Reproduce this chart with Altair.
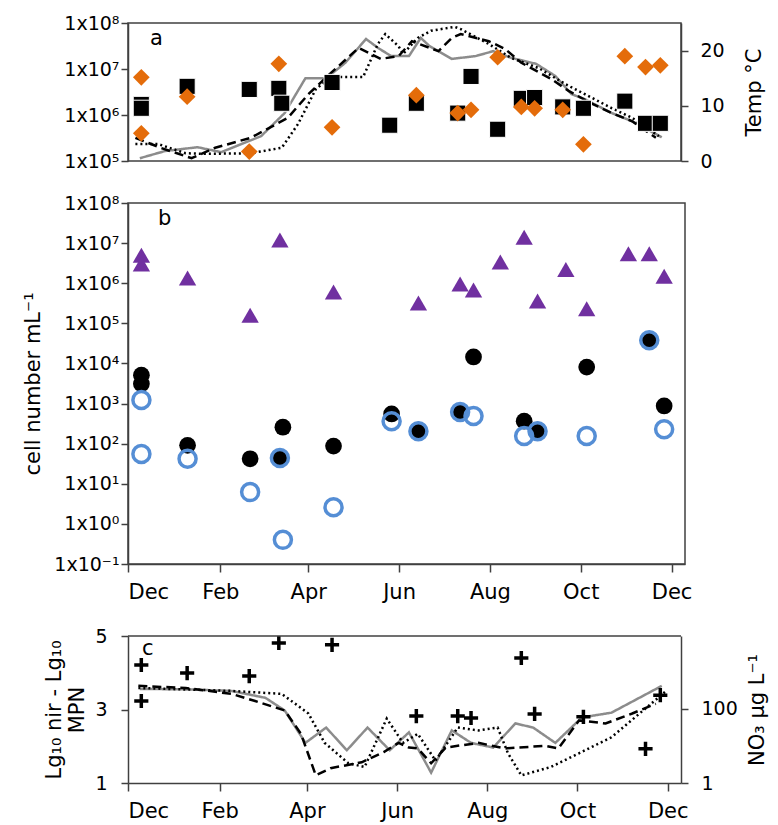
import json
import altair as alt
import pandas as pd

START = "2012-12-01"
MONTH_TICKS = [0, 62, 121, 182, 243, 304, 365]
MONTH_LABELS = ["Dec", "Feb", "Apr", "Jun", "Aug", "Oct", "Dec"]
SUP = ["⁻¹", "⁰", "¹", "²", "³", "⁴", "⁵", "⁶", "⁷", "⁸"]

# ---------------- panel a ----------------
a_sq_dates = ["2012-12-10", "2012-12-10", "2013-01-10", "2013-02-21", "2013-03-13", "2013-03-15",
              "2013-04-18", "2013-05-27", "2013-06-14", "2013-07-12", "2013-07-21", "2013-08-08",
              "2013-08-24", "2013-09-02", "2013-09-21", "2013-10-05", "2013-11-02", "2013-11-16",
              "2013-11-26"]
a_sq_vals = [1.7e6, 1.4e6, 4.2e6, 3.6e6, 3.8e6, 1.8e6, 5.1e6, 6.0e5, 1.8e6, 1.1e6, 6.9e6, 4.9e5,
             2.3e6, 2.4e6, 1.5e6, 1.4e6, 2.0e6, 6.6e5, 6.6e5]
a_dm_dates = ["2012-12-10", "2012-12-10", "2013-01-10", "2013-02-21", "2013-03-13", "2013-04-18",
              "2013-06-14", "2013-07-12", "2013-07-21", "2013-08-08", "2013-08-24", "2013-09-02",
              "2013-09-21", "2013-10-05", "2013-11-02", "2013-11-16", "2013-11-26"]
a_dm_vals = [6.6e6, 4.0e5, 2.5e6, 1.6e5, 1.3e7, 5.4e5, 2.7e6, 1.1e6, 1.3e6, 1.8e7, 1.5e6, 1.4e6,
             1.3e6, 2.3e5, 1.9e7, 1.1e7, 1.2e7]

temp_solid_dates = ["2012-12-09", "2012-12-26", "2013-01-17", "2013-02-02", "2013-03-01", "2013-03-17",
                    "2013-03-31", "2013-04-14", "2013-04-27", "2013-05-11", "2013-05-19", "2013-05-28",
                    "2013-06-09", "2013-06-17", "2013-06-23", "2013-07-08", "2013-07-24", "2013-08-05",
                    "2013-08-17", "2013-09-03", "2013-09-16", "2013-09-27", "2013-10-06", "2013-10-24",
                    "2013-11-07", "2013-11-27"]
temp_solid = [0.5, 1.8, 2.5, 1.6, 4.5, 8.7, 15.0, 15.0, 17.8, 22.1, 20.5, 19.0, 19.0, 22.3, 20.8, 18.5,
              19.0, 19.9, 18.7, 17.6, 15.4, 12.1, 11.2, 8.7, 7.2, 4.3]
temp_dashed_dates = ["2012-12-06", "2012-12-23", "2013-01-13", "2013-01-29", "2013-02-22", "2013-03-19",
                     "2013-04-02", "2013-04-15", "2013-05-06", "2013-05-21", "2013-06-02", "2013-06-11",
                     "2013-06-29", "2013-07-08", "2013-07-14", "2013-08-02", "2013-08-13", "2013-08-24",
                     "2013-09-13", "2013-09-25", "2013-10-10", "2013-10-24", "2013-11-07", "2013-11-23"]
temp_dashed = [4.2, 2.4, 0.5, 2.4, 4.2, 7.8, 12.1, 15.4, 20.5, 18.5, 19.0, 21.7, 19.9, 22.3, 23.0, 21.7,
               20.3, 17.8, 14.9, 12.7, 10.5, 8.7, 7.2, 4.2]
temp_dotted_dates = ["2012-12-06", "2012-12-21", "2013-01-09", "2013-01-22", "2013-02-22", "2013-03-15",
                     "2013-03-26", "2013-04-07", "2013-04-17", "2013-05-09", "2013-05-19", "2013-05-24",
                     "2013-06-02", "2013-06-05", "2013-06-15", "2013-06-24", "2013-07-10", "2013-07-14",
                     "2013-08-02", "2013-08-17", "2013-09-05", "2013-09-23", "2013-10-06", "2013-10-24",
                     "2013-11-07", "2013-11-25"]
temp_dotted = [3.1, 3.1, 1.4, 1.3, 1.4, 2.4, 6.7, 13.0, 15.2, 15.2, 21.2, 23.0, 20.8, 19.4, 22.3, 23.6,
               24.3, 23.9, 21.2, 18.7, 16.8, 13.9, 12.1, 9.6, 7.8, 4.5]

# ---------------- panel b ----------------
b_tri_dates = ["2012-12-10", "2012-12-10", "2013-01-10", "2013-02-21", "2013-03-13", "2013-04-18",
               "2013-06-14", "2013-07-12", "2013-07-21", "2013-08-08", "2013-08-24", "2013-09-02",
               "2013-09-21", "2013-10-05", "2013-11-02", "2013-11-16", "2013-11-26"]
b_tri_vals = [5.0e6, 3.0e6, 1.35e6, 1.6e5, 1.2e7, 6.0e5, 3.2e5, 9.5e5, 6.8e5, 3.4e6, 1.4e7, 3.6e5,
              2.2e6, 2.3e5, 5.4e6, 5.4e6, 1.5e6]
b_dot_dates = ["2012-12-10", "2012-12-10", "2013-01-10", "2013-02-21", "2013-03-13", "2013-03-15",
               "2013-04-18", "2013-05-27", "2013-06-14", "2013-07-12", "2013-07-21", "2013-08-24",
               "2013-09-02", "2013-10-05", "2013-11-16", "2013-11-26"]
b_dot_vals = [5100, 3100, 91, 42, 44, 257, 87, 550, 219, 575, 14500, 363, 219, 8100, 38000, 870]
b_ring_dates = ["2012-12-10", "2012-12-10", "2013-01-10", "2013-02-21", "2013-03-13", "2013-03-15",
                "2013-04-18", "2013-05-27", "2013-06-14", "2013-07-12", "2013-07-21", "2013-08-24",
                "2013-09-02", "2013-10-05", "2013-11-16", "2013-11-26"]
b_ring_vals = [1230, 55, 42, 6.2, 44, 0.4, 2.6, 363, 204, 617, 490, 155, 204, 155, 38000, 229]

# ---------------- panel c ----------------
c_plus_dates = ["2012-12-10", "2012-12-10", "2013-01-10", "2013-02-21", "2013-03-13", "2013-04-18",
                "2013-06-14", "2013-07-12", "2013-07-21", "2013-08-24", "2013-09-02", "2013-10-05",
                "2013-11-16", "2013-11-26"]
c_plus_vals = [4.21, 3.23, 3.99, 3.91, 4.81, 4.76, 2.82, 2.82, 2.77, 4.40, 2.88, 2.80, 1.93, 3.39]

no3_solid_dates = ["2012-12-09", "2013-01-09", "2013-02-09", "2013-03-04", "2013-03-17", "2013-03-31",
                   "2013-04-14", "2013-04-28", "2013-05-12", "2013-05-27", "2013-06-09", "2013-06-24",
                   "2013-07-08", "2013-07-21", "2013-08-05", "2013-08-20", "2013-09-01", "2013-09-16",
                   "2013-10-04", "2013-10-24", "2013-11-27"]
no3_solid = [340, 330, 300, 195, 89, 12, 31, 7.6, 31, 7.6, 23, 1.9, 26, 12, 9, 40, 31, 12, 58, 78, 410]
no3_dashed_dates = ["2012-12-08", "2013-01-09", "2013-02-09", "2013-02-25", "2013-03-17", "2013-03-28",
                    "2013-04-07", "2013-04-17", "2013-05-08", "2013-05-23", "2013-06-02", "2013-06-09",
                    "2013-06-15", "2013-06-24", "2013-07-04", "2013-07-12", "2013-07-26", "2013-08-13",
                    "2013-08-22", "2013-09-09", "2013-09-18", "2013-10-02", "2013-10-20", "2013-11-07",
                    "2013-11-23"]
no3_dashed = [410, 360, 250, 160, 89, 21, 1.6, 2.5, 3.6, 6.8, 12, 9, 8.5, 3.4, 9, 10, 12, 8.5, 9, 10,
              8.5, 48, 40, 74, 135]
no3_dotted_dates = ["2012-12-08", "2013-02-09", "2013-03-15", "2013-04-02", "2013-04-13", "2013-04-29",
                    "2013-05-10", "2013-05-25", "2013-06-05", "2013-06-15", "2013-06-27", "2013-07-12",
                    "2013-07-26", "2013-08-08", "2013-08-15", "2013-08-24", "2013-09-13", "2013-10-02",
                    "2013-10-24", "2013-11-30"]
no3_dotted = [360, 300, 250, 74, 12, 3.4, 2.7, 54, 12, 21, 4, 31, 26, 31, 6.3, 1.6, 2.7, 6.3, 17, 300]

SERIES = ["solid", "dashed", "dotted"]


def frame(dates, values, series=None):
    d = pd.DataFrame({"day": (pd.to_datetime(dates) - pd.Timestamp(START)).days, "v": values})
    if series is not None:
        d["series"] = series
    return d


FONT = "DejaVu Sans"
ORANGE = "#E46C0A"
PURPLE = "#7030A0"
BLUE = "#558ED5"
GREY = "#8C8C8C"
FRAME = "#404040"

sup_expr = "'1x10' + " + json.dumps(SUP, ensure_ascii=False) + "[round(log(datum.value)/LN10)+1]"
month_expr = (json.dumps(MONTH_LABELS) + "[indexof(" + json.dumps(MONTH_TICKS) + ", datum.value)]")

X_DOMAIN = [0, 374]


def xenc(show):
    if show:
        ax = alt.Axis(values=MONTH_TICKS, labelExpr=month_expr, title=None, labelFontSize=21,
                      labelPadding=9, tickSize=8)
    else:
        ax = None
    return alt.X("day:Q", scale=alt.Scale(domain=X_DOMAIN, nice=False, zero=False), axis=ax)


line_color = alt.Color("series:N", scale=alt.Scale(domain=SERIES, range=[GREY, "black", "black"]), legend=None)
line_dash = alt.StrokeDash("series:N", scale=alt.Scale(domain=SERIES, range=[[1, 0], [9, 5], [2, 3]]), legend=None)
line_width = alt.StrokeWidth("series:N", scale=alt.Scale(domain=SERIES, range=[2.5, 2.5, 2.2]), legend=None)


def letter(t, x, y):
    return alt.Chart(pd.DataFrame({"t": [t]})).mark_text(
        font=FONT, fontSize=21, align="left", baseline="middle", color="black"
    ).encode(text="t:N", x=alt.value(x), y=alt.value(y))


# ---- panel a
df_temp = pd.concat([frame(temp_solid_dates, temp_solid, "solid"),
                     frame(temp_dashed_dates, temp_dashed, "dashed"),
                     frame(temp_dotted_dates, temp_dotted, "dotted")])
ya = alt.Y("v:Q", scale=alt.Scale(type="log", domain=[1e5, 1e8], nice=False),
           axis=alt.Axis(values=[1e5, 1e6, 1e7, 1e8], labelExpr=sup_expr, title=None, orient="left"))
a_lines = alt.Chart(df_temp).mark_line().encode(
    x=xenc(False),
    y=alt.Y("v:Q", scale=alt.Scale(domain=[0, 25], nice=False),
            axis=alt.Axis(values=[0, 10, 20], orient="right", title="Temp °C", titleAngle=270,
                          titleBaseline="top", titlePadding=19, labelPadding=12)),
    color=line_color, strokeDash=line_dash, strokeWidth=line_width, detail="series:N")
a_sq = alt.Chart(frame(a_sq_dates, a_sq_vals)).mark_square(
    size=260, color="black", stroke="white", strokeWidth=1, opacity=1).encode(x=xenc(False), y=ya)
a_dm = alt.Chart(frame(a_dm_dates, a_dm_vals)).mark_point(
    shape="diamond", filled=True, size=280, color=ORANGE, opacity=1).encode(x=xenc(False), y=ya)
panel_a = alt.layer(a_lines, alt.layer(a_sq, a_dm, letter("a", 22, 16))).resolve_scale(
    y="independent").properties(width=553, height=138)

# ---- panel b
yb = alt.Y("v:Q", scale=alt.Scale(type="log", domain=[0.1, 1e8], nice=False),
           axis=alt.Axis(values=[0.1, 1, 10, 100, 1e3, 1e4, 1e5, 1e6, 1e7, 1e8], labelExpr=sup_expr,
                         title="cell number mL⁻¹", titlePadding=10))
b_tri = alt.Chart(frame(b_tri_dates, b_tri_vals)).mark_point(
    shape="triangle-up", filled=True, size=300, color=PURPLE, opacity=1).encode(x=xenc(True), y=yb)
b_dot = alt.Chart(frame(b_dot_dates, b_dot_vals)).mark_circle(
    size=280, color="black", opacity=1).encode(x=xenc(True), y=yb)
b_ring = alt.Chart(frame(b_ring_dates, b_ring_vals)).mark_point(
    shape="circle", filled=False, size=290, color=BLUE, strokeWidth=3.5, opacity=1).encode(x=xenc(True), y=yb)
panel_b = alt.layer(b_tri, b_dot, b_ring, letter("b", 30, 16)).properties(width=557, height=361)

# ---- panel c  (group is 30px taller than its frame; the frame is drawn by axes + a top rule)
C_TOP = 30
C_H = 177
df_no3 = pd.concat([frame(no3_solid_dates, no3_solid, "solid"),
                    frame(no3_dashed_dates, no3_dashed, "dashed"),
                    frame(no3_dotted_dates, no3_dotted, "dotted")])
c_lines = alt.Chart(df_no3).mark_line().encode(
    x=xenc(True),
    y=alt.Y("v:Q", scale=alt.Scale(type="log", domain=[1, 9000], nice=False, range=[C_H, C_TOP]),
            axis=alt.Axis(values=[1, 100], format="d", orient="right", title="NO₃ µg L⁻¹",
                          titleAngle=270, titleBaseline="top", titlePadding=9, labelPadding=13)),
    color=line_color, strokeDash=line_dash, strokeWidth=line_width, detail="series:N")
c_plus = alt.Chart(frame(c_plus_dates, c_plus_vals)).mark_point(
    shape="M-1,0H1M0,-1V1", filled=False, size=200, color="black", strokeWidth=3.5, opacity=1
).encode(x=xenc(True),
         y=alt.Y("v:Q", scale=alt.Scale(domain=[1, 5], nice=False, range=[C_H, C_TOP]),
                 axis=alt.Axis(values=[1, 3, 5], orient="left", title=["Lg₁₀ nir - Lg₁₀", "MPN"],
                               titlePadding=7, labelPadding=14)))
c_top_rule = alt.Chart(pd.DataFrame({"z": [0]})).mark_rule(color=FRAME, strokeWidth=1.5).encode(
    x=alt.value(0), x2=alt.value(553), y=alt.value(C_TOP))
panel_c = alt.layer(c_lines, alt.layer(c_plus, c_top_rule, letter("c", 14, C_TOP + 13))).resolve_scale(
    y="independent").properties(width=553, height=C_H, view=alt.ViewBackground(stroke="transparent"))

chart = alt.vconcat(panel_a, panel_b, panel_c, spacing=42, bounds="flush").properties(
    padding={"left": 14, "top": 5, "right": 0, "bottom": 2}
).configure_axis(
    labelFont=FONT, titleFont=FONT, labelFontSize=19, titleFontSize=21, titleFontWeight="normal",
    labelColor="black", titleColor="black", domainColor=FRAME, tickColor=FRAME,
    domainWidth=1.5, tickWidth=1.5, tickSize=7, grid=False
).configure_view(stroke=FRAME, strokeWidth=1.5)

chart.save("out.html", embed_options={"renderer": "svg", "actions": False})
